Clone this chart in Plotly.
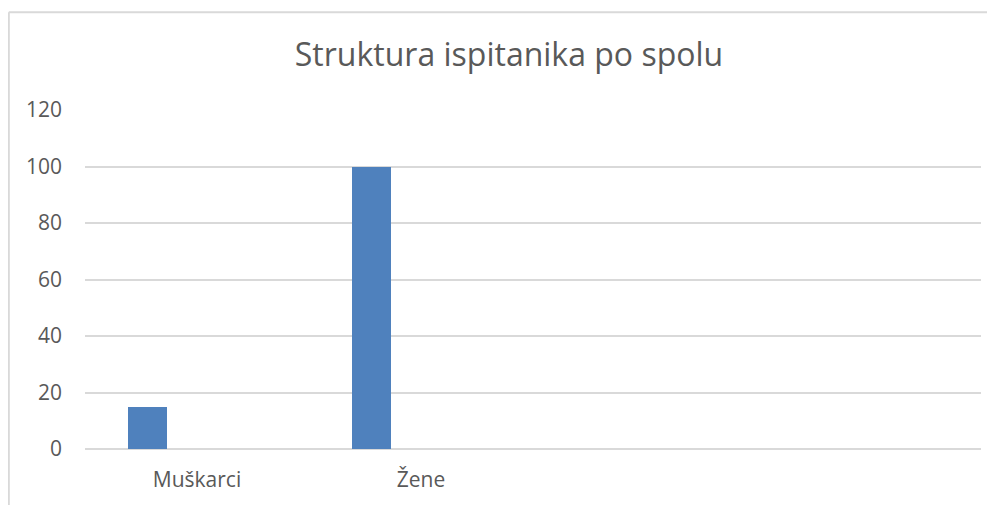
import plotly.graph_objects as go

categories = ["Muškarci", "Žene"]
values = [15, 100]
y_ticks = [0, 20, 40, 60, 80, 100, 120]
title_text = "Struktura ispitanika po spolu"

# page has an 8px body margin; figure coords = page coords - 8
OFF = 8
W, H = 995 - OFF, 505 - OFF
L, R, T = 85 - OFF, 14, 110 - OFF
B = H - (450.7 - OFF)
pw, ph = W - L - R, H - T - B

fig = go.Figure()
fig.add_trace(go.Bar(
    x=categories, y=values,
    width=0.174, offset=-0.309,
    marker=dict(color="#4F81BD", line=dict(width=0)),
    hoverinfo="x+y",
))

font_family = "Open Sans, Noto Sans, sans-serif"
fig.update_layout(
    width=W, height=H,
    margin=dict(l=L, r=R, t=T, b=B, pad=0),
    paper_bgcolor="white", plot_bgcolor="white",
    showlegend=False,
    title=dict(text=title_text, x=(509 - OFF) / W, xref="container", xanchor="center",
               y=1 - 47 / H, yref="container", yanchor="middle",
               font=dict(family=font_family, size=32, color="#595959")),
    font=dict(family=font_family, color="#595959"),
    xaxis=dict(type="category", categoryorder="array", categoryarray=categories,
               range=[-0.5, 3.5], showgrid=False, zeroline=False, showline=False,
               ticks="", ticklabelstandoff=16,
               tickfont=dict(family=font_family, size=21, color="#595959")),
    yaxis=dict(range=[0, 120], tickvals=y_ticks, showgrid=True, gridcolor="#D9D9D9",
               gridwidth=1.5, zeroline=True, zerolinecolor="#D9D9D9", zerolinewidth=1.5,
               showline=False, ticks="", ticklabelstandoff=22,
               tickfont=dict(family=font_family, size=21, color="#595959")),
    bargap=0,
)

# chart frame (left and top edges)
x0 = (8.8 - OFF - L) / pw
y_top = (H - B - (11.8 - OFF)) / ph
fig.add_shape(type="line", xref="paper", yref="paper", x0=x0, x1=(W + 20 - L) / pw,
              y0=y_top, y1=y_top, line=dict(color="#D9D9D9", width=2))
fig.add_shape(type="line", xref="paper", yref="paper", x0=x0, x1=x0,
              y0=y_top, y1=-(B + 20) / ph, line=dict(color="#D9D9D9", width=2))

fig.write_html("out.html")
